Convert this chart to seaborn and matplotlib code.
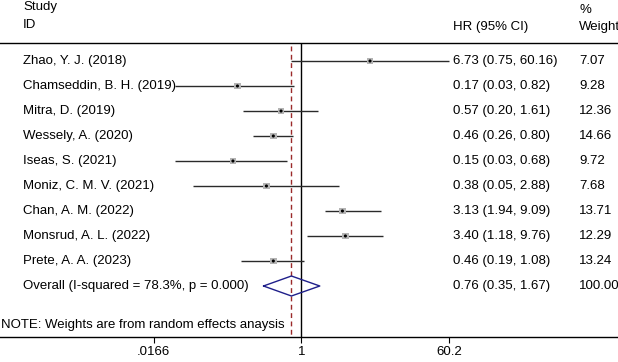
import numpy as np
import pandas as pd
import matplotlib
matplotlib.use('Agg')
import matplotlib.pyplot as plt
import seaborn as sns

studies = ['Zhao, Y. J. (2018)', 'Chamseddin, B. H. (2019)', 'Mitra, D. (2019)',
           'Wessely, A. (2020)', 'Iseas, S. (2021)', 'Moniz, C. M. V. (2021)',
           'Chan, A. M. (2022)', 'Monsrud, A. L. (2022)', 'Prete, A. A. (2023)']
hr = [6.73, 0.17, 0.57, 0.46, 0.15, 0.38, 3.13, 3.40, 0.46]
lower = [0.75, 0.03, 0.20, 0.26, 0.03, 0.05, 1.94, 1.18, 0.19]
upper = [60.16, 0.82, 1.61, 0.80, 0.68, 2.88, 9.09, 9.76, 1.08]
weight = [7.07, 9.28, 12.36, 14.66, 9.72, 7.68, 13.71, 12.29, 13.24]

overall_label = 'Overall (I-squared = 78.3%, p = 0.000)'
overall_hr, overall_lo, overall_hi = 0.76, 0.35, 1.67
xtick_vals = [0.0166, 1, 60.2]
xtick_labels = ['.0166', '1', '60.2']

df = pd.DataFrame({'study': studies, 'hr': hr, 'lo': lower, 'hi': upper, 'w': weight})
df['row'] = np.arange(len(df))
overall_row = len(df)

sns.set_style('white')
plt.rcParams['font.family'] = ['Liberation Sans', 'DejaVu Sans']
plt.rcParams['text.color'] = 'black'
plt.rcParams['xtick.color'] = 'black'
fs = 9.5

fig = plt.figure(figsize=(6.18, 3.62), dpi=100)
# axes spans full width; 1 sits at x=301px, 36 px per log unit
ax = fig.add_axes([0, (362 - 337.3) / 362, 1, (337.3 - 42.7) / 362])
ax.set_xscale('log')
ax.set_xlim(np.exp(-301.3 / 36.04), np.exp((618 - 301.3) / 36.04))
ax.set_ylim((337.3 - 61) / 25, (42.7 - 61) / 25)

# confidence intervals
ax.hlines(df['row'], df['lo'], df['hi'], color='#2a2a2a', lw=1.0, zorder=2)
sns.scatterplot(data=df, x='hr', y='row', marker='s', s=24, color='#b4b4b4',
                edgecolor='none', ax=ax, zorder=3, legend=False)
sns.scatterplot(data=df, x='hr', y='row', marker='o', s=5, color='black',
                edgecolor='none', ax=ax, zorder=4, legend=False)

# reference lines
ax.axvline(1, color='black', lw=1.0, zorder=1)
ax.plot([overall_hr, overall_hr], [-0.58, (337.3 - 61) / 25], color='#9b2a2a',
        lw=1.0, ls=(0, (3.5, 2.5)), zorder=1)

# overall diamond
dh = 0.4
ax.plot([overall_lo, overall_hr, overall_hi, overall_hr, overall_lo],
        [overall_row, overall_row - dh, overall_row, overall_row + dh, overall_row],
        color='#1f1f8a', lw=1.0, zorder=3)

# table text
tr = ax.get_yaxis_transform()
ax.text(23 / 618, -2.16, 'Study', transform=tr, fontsize=fs, va='center')
ax.text(23 / 618, -1.44, 'ID', transform=tr, fontsize=fs, va='center')
ax.text(453 / 618, -1.36, 'HR (95% CI)', transform=tr, fontsize=fs, va='center')
ax.text(579 / 618, -2.05, '%', transform=tr, fontsize=fs, va='center')
ax.text(579 / 618, -1.36, 'Weight', transform=tr, fontsize=fs, va='center')

for _, r in df.iterrows():
    ax.text(23 / 618, r['row'], r['study'], transform=tr, fontsize=fs, va='center')
    ax.text(453 / 618, r['row'], f"{r['hr']:.2f} ({r['lo']:.2f}, {r['hi']:.2f})",
            transform=tr, fontsize=fs, va='center')
    ax.text(579 / 618, r['row'], f"{r['w']:.2f}", transform=tr, fontsize=fs, va='center')

ax.text(23 / 618, overall_row, overall_label, transform=tr, fontsize=fs, va='center')
ax.text(453 / 618, overall_row, f'{overall_hr:.2f} ({overall_lo:.2f}, {overall_hi:.2f})',
        transform=tr, fontsize=fs, va='center')
ax.text(579 / 618, overall_row, '100.00', transform=tr, fontsize=fs, va='center')
ax.text(1 / 618, 10.56, 'NOTE: Weights are from random effects anaysis', transform=tr,
        fontsize=fs, va='center')

# axes styling
for side in ['left', 'right']:
    ax.spines[side].set_visible(False)
for side in ['top', 'bottom']:
    ax.spines[side].set_linewidth(1.0)
    ax.spines[side].set_color('black')
ax.set_yticks([])
ax.set_xticks(xtick_vals)
ax.set_xticklabels(xtick_labels, fontsize=fs)
ax.xaxis.set_minor_locator(matplotlib.ticker.NullLocator())
ax.tick_params(axis='x', direction='out', length=4, width=0.8, pad=2.5, bottom=True,
               colors='black')
ax.set_xlabel('')
ax.set_ylabel('')

fig.savefig('out.png', dpi=100)
